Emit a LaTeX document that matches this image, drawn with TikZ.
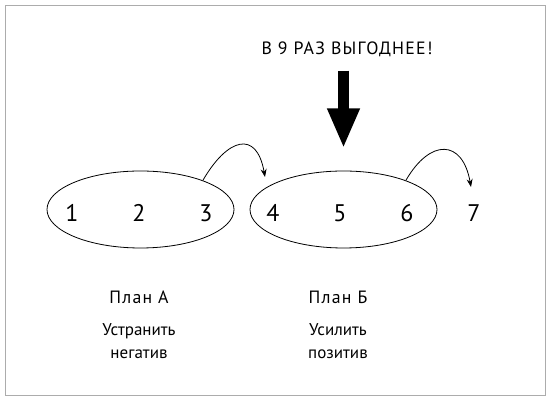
\documentclass[tikz,border=0pt]{standalone}
\usepackage{fontspec}
\setmainfont{PT Sans}
\newfontfamily\spaced[LetterSpace=7]{PT Sans}
\usetikzlibrary{positioning, arrows.meta, shapes}

\begin{document}
\begin{tikzpicture}[
		x=1pt, y=1pt,
		>={Stealth[length=8pt, width=6pt]},
		plan/.style={draw, ellipse, line width=0.8pt, inner sep=0pt, minimum width=187pt, minimum height=77pt},
		num/.style={anchor=base, inner sep=0pt, font=\fontsize{24}{28}\selectfont},
		label/.style={inner sep=0pt, font=\fontsize{17}{22.7}\selectfont, align=center},
		title/.style={anchor=base, inner sep=0pt, font=\spaced\fontsize{17.8}{20}\selectfont},
	]
	\useasboundingbox (0, 0) rectangle (551, 403);
	\draw[gray!65, line width=1.1pt] (5.3, 7.3) rectangle (545.7, 397.7);

	\node[plan] (planA) at (140.5, 193.5) {};
	\node[plan] (planB) at (343.5, 193.5) {};

	\foreach \i in {1,...,7}
		\node[num] (n\i) at (5+67*\i, 181) {\i};

	\node[title] (bonus) at (347, 348) {В 9 РАЗ ВЫГОДНЕЕ!};
	\coordinate (push) at (343.5, 332.3);
	\coordinate (hit) at (343.5, 254.7);
	\draw[line width=11.6pt, -{Triangle[length=40pt, width=30pt]}] (push) -- (hit);

	\coordinate (to4) at (265, 226);
	\coordinate (to7) at (471, 216);
	\draw[->, line width=0.8pt] (planA.25) to[out=60, in=100, looseness=2] (to4);
	\draw[->, line width=0.8pt] (planB.25) to[out=60, in=100, looseness=1.9] (to7);

	\node[title] (nameA) at (139, 99.7) {План А};
	\node[title] (nameB) at (338, 99.7) {План Б};
	\node[label, anchor=north] (goalA) at (139, 79.7) {Устранить\\негатив};
	\node[label, anchor=north] (goalB) at (338, 79.7) {Усилить\\позитив};
\end{tikzpicture}
\end{document}
